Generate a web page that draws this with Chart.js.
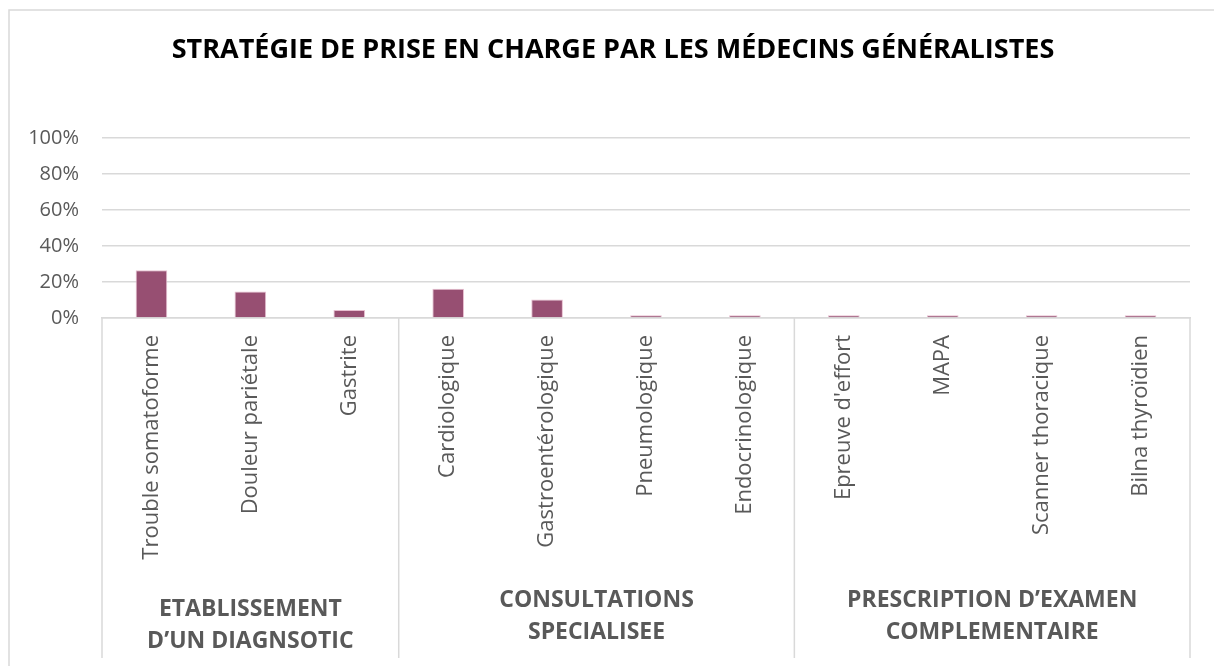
<!DOCTYPE html>
<html>
<head>
<meta charset="utf-8">
<script src="https://cdn.jsdelivr.net/npm/chart.js@4"></script>
<style>
  body { margin: 0; background: #fff; }
  #wrap { width: 1214px; height: 666px; position: relative; }
</style>
</head>
<body>
<div id="wrap"><canvas id="myChart"></canvas></div>
<script>
const titleText = 'STRATÉGIE DE PRISE EN CHARGE PAR LES MÉDECINS GÉNÉRALISTES';

const categories = [
  'Trouble somatoforme', 'Douleur pariétale', 'Gastrite',
  'Cardiologique', 'Gastroentérologique', 'Pneumologique', 'Endocrinologique',
  "Epreuve d'effort", 'MAPA', 'Scanner thoracique', 'Bilna thyroïdien'
];

const values = [26.5, 14.7, 4.4, 16.2, 10.3, 1.5, 1.5, 1.5, 1.5, 1.5, 1.5];

const groupNames = [
  ['ETABLISSEMENT', 'D’UN DIAGNSOTIC'],
  ['CONSULTATIONS', 'SPECIALISEE'],
  ['PRESCRIPTION D’EXAMEN', 'COMPLEMENTAIRE']
];
const groupSizes = [3, 4, 4];

const yTicks = [0, 20, 40, 60, 80, 100];

const lineGrey = '#d9d9d9';
const textGrey = '#595959';
const fontFamily = "'Open Sans', 'Noto Sans', sans-serif";

// outer frame, title, group separators and group labels under the category axis
const groupAxisPlugin = {
  id: 'groupAxis',
  beforeDraw(chart) {
    const ctx = chart.ctx;
    ctx.save();
    ctx.strokeStyle = lineGrey;
    ctx.lineWidth = 1.5;
    ctx.beginPath();
    ctx.moveTo(9, chart.height);
    ctx.lineTo(9, 10);
    ctx.lineTo(chart.width, 10);
    ctx.stroke();

    // title centred on the whole frame, not on the plot
    ctx.fillStyle = '#000';
    ctx.font = 'bold 27px ' + fontFamily;
    ctx.textAlign = 'center';
    ctx.textBaseline = 'alphabetic';
    ctx.fillText(titleText, chart.width / 2 + 6, 58);
    ctx.restore();
  },
  afterDraw(chart) {
    const ctx = chart.ctx;
    const x = chart.scales.x;
    const area = chart.chartArea;
    const half = (x.getPixelForValue(1) - x.getPixelForValue(0)) / 2;
    const bottom = chart.height - 8;

    ctx.save();
    ctx.strokeStyle = lineGrey;
    ctx.lineWidth = 1.5;

    let start = 0;
    const edges = [area.left];
    groupSizes.forEach(size => {
      const end = start + size - 1;
      edges.push(x.getPixelForValue(end) + half);
      start += size;
    });
    edges.forEach(px => {
      ctx.beginPath();
      ctx.moveTo(px, area.bottom);
      ctx.lineTo(px, bottom);
      ctx.stroke();
    });

    ctx.fillStyle = textGrey;
    ctx.font = 'bold 23px ' + fontFamily;
    ctx.textAlign = 'center';
    ctx.textBaseline = 'middle';
    groupNames.forEach((lines, i) => {
      const cx = (edges[i] + edges[i + 1]) / 2;
      const top = i === 0 ? 609 : 600;
      lines.forEach((line, j) => {
        ctx.fillText(line, cx, top + j * 32);
      });
    });
    ctx.restore();
  }
};

const ctx = document.getElementById('myChart').getContext('2d');

const myChart = new Chart(ctx, {
  type: 'bar',
  data: {
    labels: categories,
    datasets: [{
      data: values,
      backgroundColor: '#974f72',
      borderColor: '#e7bfd0',
      borderWidth: 1,
      barPercentage: 0.64,
      categoryPercentage: 0.5
    }]
  },
  options: {
    responsive: true,
    maintainAspectRatio: false,
    animation: false,
    layout: {
      padding: { left: 0, right: 24, bottom: 0, top: 138 }
    },
    plugins: {
      legend: { display: false },
      tooltip: { enabled: false },
      title: { display: false }
    },
    scales: {
      x: {
        grid: { display: false, drawTicks: false },
        border: { display: true, color: lineGrey, width: 1.5 },
        ticks: {
          color: textGrey,
          font: { family: fontFamily, size: 22 },
          minRotation: 90,
          maxRotation: 90,
          padding: 17,
          autoSkip: false
        },
        afterFit(axis) {
          axis.height = 348;
        }
      },
      y: {
        min: 0,
        max: 100,
        afterBuildTicks(axis) {
          axis.ticks = yTicks.map(v => ({ value: v }));
        },
        afterFit(axis) {
          axis.width = 102;
        },
        grid: { color: lineGrey, lineWidth: 1.5, drawTicks: false },
        border: { display: false },
        ticks: {
          color: textGrey,
          font: { family: fontFamily, size: 20 },
          padding: 23,
          callback: v => v + '%'
        }
      }
    }
  },
  plugins: [groupAxisPlugin]
});
</script>
</body>
</html>
